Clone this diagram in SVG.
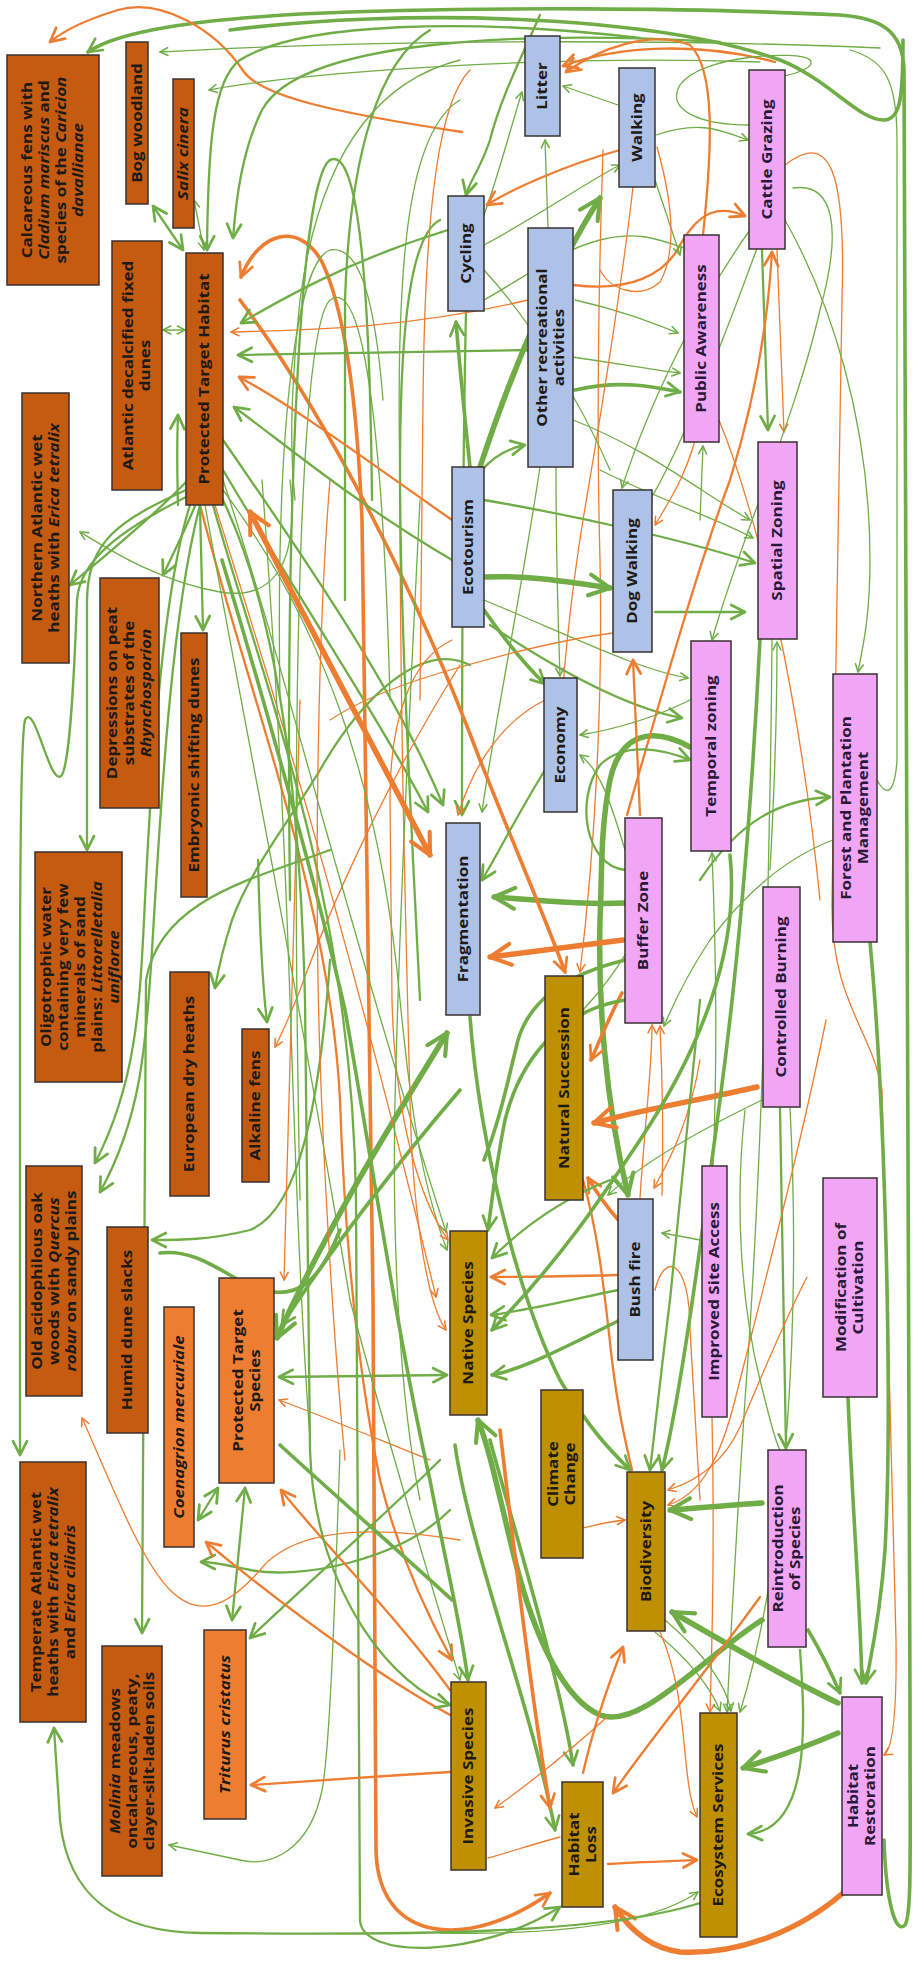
<svg xmlns="http://www.w3.org/2000/svg" width="918" height="1961" viewBox="0 0 918 1961">
<defs>
<marker id="mg" viewBox="0 0 10 10" refX="8.5" refY="5" markerWidth="8" markerHeight="8" markerUnits="strokeWidth" orient="auto-start-reverse"><path d="M1,1.2 L8.5,5 L1,8.8" fill="none" stroke="#70AD47" stroke-width="1.5" stroke-linecap="round" stroke-linejoin="round"/></marker>
<marker id="mgb" viewBox="0 0 10 10" refX="8.5" refY="5" markerWidth="5" markerHeight="5" markerUnits="strokeWidth" orient="auto-start-reverse"><path d="M1,1.2 L8.5,5 L1,8.8" fill="none" stroke="#70AD47" stroke-width="1.5" stroke-linecap="round" stroke-linejoin="round"/></marker>
<marker id="mo" viewBox="0 0 10 10" refX="8.5" refY="5" markerWidth="8" markerHeight="8" markerUnits="strokeWidth" orient="auto-start-reverse"><path d="M1,1.2 L8.5,5 L1,8.8" fill="none" stroke="#ED7D31" stroke-width="1.5" stroke-linecap="round" stroke-linejoin="round"/></marker>
<marker id="mob" viewBox="0 0 10 10" refX="8.5" refY="5" markerWidth="5" markerHeight="5" markerUnits="strokeWidth" orient="auto-start-reverse"><path d="M1,1.2 L8.5,5 L1,8.8" fill="none" stroke="#ED7D31" stroke-width="1.5" stroke-linecap="round" stroke-linejoin="round"/></marker>
<style>
#connectors path{fill:none;stroke-linecap:round;stroke-linejoin:round}
.g{stroke:#70AD47}
.o{stroke:#ED7D31}
.w1{stroke-width:1.3}.w2{stroke-width:2.3}.w3{stroke-width:3.6}.w4{stroke-width:5.5}
.g.a{marker-end:url(#mg)}
.g.d{marker-start:url(#mg);marker-end:url(#mg)}
.o.a{marker-end:url(#mo)}
.o.d{marker-start:url(#mo);marker-end:url(#mo)}
.g.a.w3,.g.a.w4{marker-end:url(#mgb)}
.g.d.w3,.g.d.w4{marker-start:url(#mgb);marker-end:url(#mgb)}
.o.a.w3,.o.a.w4{marker-end:url(#mob)}
.o.d.w3,.o.d.w4{marker-start:url(#mob);marker-end:url(#mob)}
#nodes rect{stroke:#3a3030;stroke-width:1.5}
.h{fill:#C55A11}
.s{fill:#ED7D31}
.y{fill:#BF9000}
.b{fill:#ADC2E6}
.p{fill:#F0A6F5}
#nodes text{font-family:"Open Sans","DejaVu Sans",sans-serif;font-weight:700;font-size:13.5px;fill:#1e1a18;text-anchor:middle}
#nodes .pt{fill:#2a1838}
.i{font-style:italic}
</style>
</defs>
<rect width="918" height="1961" fill="#ffffff"/>
<g id="connectors">
<path class="g a w3" d="M884,1840 C886,1900 895,1935 905,1925 C912,1915 910,1850 910,1700 L904,70 C903,30 880,18 840,15 C700,8 480,6 300,14 C200,20 120,30 88,52"/>
<path class="o a w2" d="M462,132 C330,112 262,96 244,72 C215,28 160,-2 118,10 C85,20 62,32 50,42"/>
<path class="g a w2" d="M640,38 C470,18 300,22 240,60 C212,80 208,150 207,250"/>
<path class="g a w2" d="M720,42 C520,30 300,40 262,110 C242,150 236,200 233,238"/>
<path class="g a w1" d="M880,48 C700,40 400,38 160,52"/>
<path class="g a w1" d="M760,62 C560,55 320,70 209,90"/>
<path class="g w3" d="M230,30 C400,8 650,14 780,60 C830,80 860,122 885,120 C900,118 903,100 903,40"/>
<path class="o a w2" d="M775,62 C700,42 620,45 563,66"/>
<path class="g w1" d="M750,125 C700,125 665,110 680,85 C700,55 800,50 810,60 C818,70 780,78 760,80"/>
<path class="g a w1" d="M484,215 C500,170 510,130 522,92"/>
<path class="g a w1" d="M548,228 L545,140"/>
<path class="g a w1" d="M618,105 L563,86"/>
<path class="g a w1" d="M484,245 C540,215 590,180 620,165"/>
<path class="o a w2" d="M620,150 C565,165 510,190 487,205"/>
<path class="g a w4" d="M480,467 C515,360 560,260 600,198"/>
<path class="o a w2" d="M573,285 C630,292 665,275 680,245 C700,210 720,205 745,216"/>
<path class="o a w2" d="M703,235 C712,150 716,70 690,45 C650,30 600,48 566,72"/>
<path class="o a w1" d="M785,165 C830,130 846,170 842,300 L832,900 C830,1000 872,1030 882,1090 L896,1640 C897,1720 892,1750 884,1755"/>
<path class="g a w2" d="M762,250 L768,430"/>
<path class="o a w1" d="M777,250 L784,432"/>
<path class="g a w1" d="M655,180 L680,255"/>
<path class="g a w1" d="M575,300 C620,310 650,322 678,333"/>
<path class="g a w3" d="M575,390 C620,380 650,386 680,392"/>
<path class="g a w1" d="M520,350 C600,360 640,368 680,373"/>
<path class="g a w1" d="M700,520 L703,446"/>
<path class="g a w1" d="M656,135 C700,120 720,130 748,140"/>
<path class="g a w2" d="M540,15 C520,60 500,100 490,140 C480,170 470,180 466,195"/>
<path class="g w1" d="M484,300 C520,280 560,250 600,240 C640,230 660,240 690,250"/>
<path class="g a w1" d="M750,230 C700,300 650,400 622,488"/>
<path class="g w1" d="M760,240 C720,350 680,450 650,500"/>
<path class="o w1" d="M719,420 C760,520 800,700 820,900"/>
<path class="o a w1" d="M603,150 C598,300 597,450 600,560 C603,700 595,850 580,972"/>
<path class="o w1" d="M633,187 C620,300 600,420 583,520 C570,600 560,700 556,800"/>
<path class="g a w2" d="M482,470 C495,455 510,448 525,445"/>
<path class="o w1" d="M657,147 C672,200 678,250 660,282 C640,300 610,290 600,270"/>
<path class="g w1" d="M484,270 C530,320 580,400 610,470"/>
<path class="g a w4" d="M486,577 C530,575 570,582 610,588"/>
<path class="g a w3" d="M484,610 C505,640 525,665 545,684"/>
<path class="g a w3" d="M470,467 C465,420 460,370 456,322"/>
<path class="g a w2" d="M655,612 L745,612"/>
<path class="g a w1" d="M573,420 C650,450 705,495 750,520"/>
<path class="g a w1" d="M600,470 C660,500 720,520 753,538"/>
<path class="g a w2" d="M484,500 C600,520 700,545 755,563"/>
<path class="g a w1" d="M484,600 C580,640 640,670 688,678"/>
<path class="g a w2" d="M490,625 C580,685 640,710 682,718"/>
<path class="g a w4" d="M690,747 C650,725 620,735 610,780 C600,830 602,880 600,920 C598,1000 605,1100 628,1195"/>
<path class="g a w4" d="M625,903 C580,905 540,900 494,897"/>
<path class="o a w4" d="M623,940 L490,957"/>
<path class="g a w2" d="M466,311 C462,500 462,700 462,815"/>
<path class="g a w1" d="M540,467 C520,600 490,750 482,812"/>
<path class="g a w2" d="M223,470 C300,600 380,720 428,812"/>
<path class="g a w2" d="M223,440 C320,580 400,700 443,805"/>
<path class="o w1" d="M613,633 C560,640 500,655 440,673 C400,685 360,700 330,720"/>
<path class="o a w2" d="M627,815 C660,700 700,560 730,480 C755,400 768,320 772,252"/>
<path class="o a w3" d="M240,300 C330,420 420,600 480,760 C520,860 550,930 565,972"/>
<path class="o a w2" d="M640,815 L633,660"/>
<path class="o a w1" d="M700,420 C690,470 670,500 655,525"/>
<path class="g a w2" d="M625,870 C585,865 575,800 600,765 C625,740 665,750 690,760"/>
<path class="g a w1" d="M690,700 C650,720 610,730 580,735"/>
<path class="g a w1" d="M625,850 C610,800 600,770 580,755"/>
<path class="g a w1" d="M556,467 C556,560 558,620 560,676"/>
<path class="g a w2" d="M545,770 C520,810 500,850 482,880"/>
<path class="o a w1" d="M545,700 C505,720 475,760 458,815"/>
<path class="g w3" d="M625,960 C565,975 530,1000 518,1040 C508,1080 500,1120 484,1160"/>
<path class="g a w1" d="M583,1010 C615,975 640,940 660,872"/>
<path class="g a w2" d="M700,880 C740,820 780,800 830,797"/>
<path class="g w1" d="M877,780 C888,800 895,790 897,760 L897,140 C897,80 885,60 850,50"/>
<path class="g a w1" d="M833,840 C780,860 740,900 710,940 C690,970 675,1000 664,1026"/>
<path class="g a w3" d="M848,1397 C852,1500 860,1600 862,1683"/>
<path class="g a w3" d="M870,942 C885,1100 893,1400 885,1550 C880,1620 870,1660 866,1683"/>
<path class="g a w1" d="M785,220 C830,300 870,420 870,560 C870,620 862,650 858,672"/>
<path class="g a w1" d="M793,188 C835,182 842,230 820,310 C795,420 740,540 712,640"/>
<path class="o a w4" d="M757,1087 C700,1100 640,1110 594,1123"/>
<path class="o a w3" d="M620,1222 C605,1205 595,1190 588,1178"/>
<path class="o a w3" d="M622,993 C610,1015 600,1040 591,1060"/>
<path class="o a w2" d="M618,1275 C580,1276 530,1277 491,1277"/>
<path class="g a w1" d="M762,1100 C700,1130 640,1165 608,1195"/>
<path class="o a w1" d="M640,1198 C645,1120 652,1070 652,1025"/>
<path class="o a w1" d="M662,1195 C664,1120 662,1070 660,1026"/>
<path class="o w2" d="M583,1180 C600,1240 605,1300 612,1360 C618,1410 625,1440 632,1470"/>
<path class="g a w3" d="M730,855 C740,950 700,1050 640,1140 C600,1200 560,1260 492,1330"/>
<path class="g a w2" d="M618,1290 C570,1300 530,1310 491,1315"/>
<path class="g a w3" d="M620,1320 C560,1350 520,1370 492,1375"/>
<path class="g a w2" d="M610,1180 C560,1200 520,1230 492,1258"/>
<path class="g a w3" d="M625,1000 C560,1010 520,1060 505,1120 C495,1170 492,1200 488,1230"/>
<path class="g a w3" d="M470,1017 C480,1150 520,1300 560,1380 C590,1430 610,1450 630,1470"/>
<path class="g a w1" d="M713,1166 C718,1050 716,950 712,853"/>
<path class="o a w1" d="M712,1417 C715,1550 712,1650 710,1712"/>
<path class="o a w1" d="M700,1060 C690,1120 670,1160 654,1188"/>
<path class="g a w1" d="M700,1240 C690,1238 675,1235 662,1233"/>
<path class="o w1" d="M655,1290 C665,1250 690,1260 690,1330 L700,1500"/>
<path class="g a w2" d="M780,1108 L786,1448"/>
<path class="g a w1" d="M790,1108 C800,1300 790,1550 740,1712"/>
<path class="g a w3" d="M760,639 C752,800 740,950 720,1100 C700,1250 680,1400 662,1470"/>
<path class="g a w1" d="M772,639 C770,900 760,1200 745,1400 C735,1550 730,1650 727,1712"/>
<path class="g a w1" d="M770,870 C775,780 777,700 777,642"/>
<path class="o a w1" d="M807,1277 C780,1330 760,1380 740,1427 C725,1460 700,1480 668,1490"/>
<path class="g a w2" d="M700,1000 C690,1100 680,1200 670,1300 C660,1380 655,1430 650,1470"/>
<path class="o a w1" d="M826,1020 C800,1150 760,1300 735,1400 C720,1460 700,1495 668,1505"/>
<path class="g w1" d="M745,1110 C735,1200 740,1300 760,1380 C770,1420 775,1440 780,1450"/>
<path class="g a w4" d="M762,1503 C730,1505 700,1508 670,1510"/>
<path class="g a w4" d="M838,1703 C790,1680 720,1640 672,1612"/>
<path class="g a w4" d="M838,1733 C810,1745 780,1756 743,1768"/>
<path class="o a w2" d="M608,1864 C640,1862 670,1861 697,1860"/>
<path class="o a w4" d="M843,1893 C800,1930 740,1955 680,1952 C650,1948 630,1930 615,1907"/>
<path class="g a w3" d="M808,1630 C820,1650 830,1670 840,1693"/>
<path class="g a w4" d="M762,1620 C700,1660 640,1730 600,1715 C565,1700 535,1640 515,1560 C500,1500 490,1450 478,1420"/>
<path class="g a w3" d="M490,1440 C520,1550 560,1680 573,1765"/>
<path class="g a w3" d="M455,1445 C470,1550 530,1700 555,1830"/>
<path class="o a w3" d="M500,1430 C515,1560 535,1720 550,1808"/>
<path class="o a w2" d="M583,1773 C595,1720 610,1680 623,1647"/>
<path class="o a w1" d="M583,1528 C600,1524 612,1521 625,1520"/>
<path class="o a w2" d="M760,1597 C700,1680 650,1740 613,1793"/>
<path class="g a w1" d="M655,1632 C690,1660 712,1690 720,1711"/>
<path class="g a w1" d="M665,1620 C700,1650 725,1680 731,1711"/>
<path class="g a w2" d="M800,1650 C805,1720 812,1830 748,1834"/>
<path class="g a w1" d="M440,1933 C550,1935 650,1925 698,1892"/>
<path class="o a w1" d="M660,1632 C690,1700 680,1780 697,1817"/>
<path class="o a w1" d="M607,1717 C560,1760 520,1790 495,1808"/>
<path class="o w1" d="M560,1837 C530,1845 510,1852 488,1858"/>
<path class="o d w3" d="M241,277 C260,230 300,222 322,262 C345,310 357,400 362,520 L373,1300 L376,1850 C378,1945 470,1950 550,1893"/>
<path class="o a w2" d="M200,505 C250,700 330,900 340,1100 C345,1250 360,1380 380,1480 C400,1560 430,1620 452,1660"/>
<path class="g a w2" d="M213,505 C268,700 352,900 356,1200 L360,1920 C362,1960 480,1958 560,1907"/>
<path class="g a w2" d="M700,1903 C600,1935 400,1935 200,1933 C120,1932 68,1900 60,1820 L54,1728"/>
<path class="g a w1" d="M340,1450 C335,1600 330,1750 322,1790 C310,1850 270,1868 240,1860 L169,1845"/>
<path class="g a w2" d="M330,850 C250,880 160,900 146,980 L142,1633"/>
<path class="g a w2" d="M330,960 C320,1100 300,1210 250,1230 C210,1240 180,1240 152,1240"/>
<path class="g a w2" d="M190,505 C160,600 150,800 145,900 C140,1000 138,1080 95,1163"/>
<path class="g a w2" d="M200,505 C170,620 160,820 152,950 C146,1050 140,1120 100,1192"/>
<path class="g a w2" d="M470,665 C420,640 360,700 320,770 C290,820 250,870 232,920 C224,945 219,965 215,988"/>
<path class="g a w2" d="M258,860 C260,940 263,990 267,1022"/>
<path class="o a w1" d="M460,665 C400,760 340,880 300,990 C292,1010 284,1030 275,1047"/>
<path class="g w3" d="M160,1253 C200,1248 230,1280 260,1290 C300,1300 320,1280 340,1230"/>
<path class="g d w4" d="M447,1033 C400,1110 330,1220 277,1338"/>
<path class="g a w3" d="M460,1090 C400,1160 330,1250 282,1325"/>
<path class="g d w2" d="M279,1377 L447,1375"/>
<path class="g d w2" d="M245,1488 L232,1620"/>
<path class="g d w2" d="M218,1488 L198,1520"/>
<path class="g a w2" d="M450,1510 C400,1560 300,1580 250,1570 C230,1566 215,1562 201,1562"/>
<path class="g a w2" d="M440,1460 C380,1520 300,1590 250,1638"/>
<path class="o a w2" d="M450,1690 C400,1620 320,1540 281,1490"/>
<path class="o a w2" d="M460,1720 C400,1690 300,1620 206,1542"/>
<path class="o a w1" d="M460,1540 C400,1530 300,1520 260,1570 C230,1605 200,1620 170,1590 C140,1560 110,1480 82,1418"/>
<path class="o a w2" d="M450,1772 C380,1776 300,1782 251,1785"/>
<path class="g w3" d="M280,1445 C340,1500 420,1570 452,1600"/>
<path class="o a w1" d="M300,700 C295,900 290,1100 284,1280"/>
<path class="o a w1" d="M430,1460 C380,1440 320,1415 279,1400"/>
<path class="g a w1" d="M223,480 C280,650 340,900 446,1232"/>
<path class="o a w1" d="M215,505 C260,650 340,900 436,1297"/>
<path class="g a w1" d="M205,505 C240,700 300,1000 350,1300 C390,1450 430,1580 460,1680"/>
<path class="g a w2" d="M223,500 C280,620 300,800 305,1000 L310,1450 C315,1600 400,1690 450,1705"/>
<path class="g a w1" d="M223,490 C320,620 380,780 400,1000 C410,1100 420,1180 447,1250"/>
<path class="g a w3" d="M222,560 C270,720 320,900 345,1010 C370,1150 400,1350 430,1480 C445,1560 460,1620 468,1680"/>
<path class="g w1" d="M262,480 C275,650 285,850 290,1000 C295,1150 300,1300 310,1440"/>
<path class="o w1" d="M330,480 C320,600 315,800 318,980 C320,1100 330,1300 345,1460"/>
<path class="o a w1" d="M400,480 C400,700 405,900 410,1100 C412,1200 425,1300 446,1330"/>
<path class="o a w1" d="M452,640 C410,660 390,720 390,800 L392,1000 C395,1120 420,1200 448,1240"/>
<path class="g w1" d="M420,500 C410,700 400,900 395,1100 C392,1250 400,1400 420,1500"/>
<path class="g a w1" d="M290,480 C300,570 270,600 220,592 C160,582 110,550 80,532"/>
<path class="g a w2" d="M178,505 C177,470 177,440 178,415"/>
<path class="g w2" d="M290,900 C285,500 300,180 330,160 C360,145 370,300 372,500"/>
<path class="g w1" d="M300,1200 C290,700 300,330 330,300 C370,270 385,500 390,700"/>
<path class="g w1" d="M280,700 C275,400 300,260 330,250 C360,245 375,300 383,400"/>
<path class="g w2" d="M420,1000 C400,600 380,250 440,220"/>
<path class="g w1" d="M460,60 C380,80 320,150 300,300 C290,400 290,450 295,500"/>
<path class="g w2" d="M430,30 C380,60 350,150 345,300 L345,600"/>
<path class="g w1" d="M460,100 C410,130 395,250 400,480"/>
<path class="o w1" d="M470,70 C440,100 425,200 423,400 L420,700"/>
<path class="g a w2" d="M448,230 C350,260 280,300 241,323"/>
<path class="g a w2" d="M528,350 C400,352 300,354 238,355"/>
<path class="o a w1" d="M528,300 C400,330 300,330 231,332"/>
<path class="o a w2" d="M452,520 C380,470 300,410 239,377"/>
<path class="g a w2" d="M452,560 C350,500 280,440 234,407"/>
<path class="o d w4" d="M250,512 L430,855"/>
<path class="g d w1" d="M163,330 L185,330"/>
<path class="g d w2" d="M153,206 L183,250"/>
<path class="g d w1" d="M194,200 L204,250"/>
<path class="g a w2" d="M188,480 C150,520 100,560 70,585"/>
<path class="g a w2" d="M195,506 C185,530 175,550 163,575"/>
<path class="g a w2" d="M200,507 L203,630"/>
<path class="g a w2" d="M190,495 C120,530 80,560 77,600 C74,680 70,760 62,775 C50,790 35,700 25,720 C20,740 20,900 20,1000 L20,1455"/>
<path class="g a w2" d="M186,490 C120,520 88,540 87,600 L87,850"/>
</g>
<g id="nodes">
<g id="n-calcareous"><rect class="h" x="7" y="55" width="92" height="230"/><text transform="translate(53,170) rotate(-90) scale(1.26,1)"><tspan x="0" y="-20.7">Calcareous fens with</tspan><tspan x="0" y="-3.7"><tspan class="i">Cladium mariscus</tspan> and</tspan><tspan x="0" y="13.3">species of the <tspan class="i">Caricion</tspan></tspan><tspan x="0" y="30.3" class="i">davallianae</tspan></text></g>
<g id="n-bog"><rect class="h" x="126" y="42" width="22" height="162"/><text transform="translate(137,123) rotate(-90) scale(1.26,1)"><tspan x="0" y="4.8">Bog woodland</tspan></text></g>
<g id="n-salix"><rect class="h" x="173" y="79" width="21" height="149"/><text transform="translate(183.5,153.5) rotate(-90) scale(1.26,1)"><tspan x="0" y="4.8" class="i">Salix cinera</tspan></text></g>
<g id="n-atlantic"><rect class="h" x="112" y="241" width="50" height="249"/><text transform="translate(137,365.5) rotate(-90) scale(1.26,1)"><tspan x="0" y="-3.7">Atlantic decalcified fixed</tspan><tspan x="0" y="13.3">dunes</tspan></text></g>
<g id="n-pth"><rect class="h" x="186" y="253" width="37" height="252"/><text transform="translate(204.5,379) rotate(-90) scale(1.26,1)"><tspan x="0" y="4.8">Protected Target Habitat</tspan></text></g>
<g id="n-northern"><rect class="h" x="22" y="393" width="47" height="270"/><text transform="translate(45.5,528) rotate(-90) scale(1.26,1)"><tspan x="0" y="-3.7">Northern Atlantic wet</tspan><tspan x="0" y="13.3">heaths with <tspan class="i">Erica tetralix</tspan></tspan></text></g>
<g id="n-depressions"><rect class="h" x="100" y="578" width="59" height="230"/><text transform="translate(129.5,693) rotate(-90) scale(1.26,1)"><tspan x="0" y="-12.2">Depressions on peat</tspan><tspan x="0" y="4.8">substrates of the</tspan><tspan x="0" y="21.8" class="i">Rhynchosporion</tspan></text></g>
<g id="n-embryonic"><rect class="h" x="181" y="633" width="26" height="264"/><text transform="translate(194,765) rotate(-90) scale(1.26,1)"><tspan x="0" y="4.8">Embryonic shifting dunes</tspan></text></g>
<g id="n-oligotrophic"><rect class="h" x="35" y="852" width="87" height="230"/><text transform="translate(80,967) rotate(-90) scale(1.26,1)"><tspan x="0" y="-29.2">Oligotrophic water</tspan><tspan x="0" y="-12.2">containing very few</tspan><tspan x="0" y="4.8">minerals of sand</tspan><tspan x="0" y="21.8">plains: <tspan class="i">Littorelletalia</tspan></tspan><tspan x="0" y="38.8" class="i">uniflorae</tspan></text></g>
<g id="n-european"><rect class="h" x="170" y="972" width="39" height="224"/><text transform="translate(189.5,1084) rotate(-90) scale(1.26,1)"><tspan x="0" y="4.8">European dry heaths</tspan></text></g>
<g id="n-alkaline"><rect class="h" x="242" y="1029" width="27" height="153"/><text transform="translate(255.5,1105.5) rotate(-90) scale(1.26,1)"><tspan x="0" y="4.8">Alkaline fens</tspan></text></g>
<g id="n-oak"><rect class="h" x="26" y="1166" width="56" height="230"/><text transform="translate(54,1281) rotate(-90) scale(1.26,1)"><tspan x="0" y="-12.2">Old acidophilous oak</tspan><tspan x="0" y="4.8">woods with <tspan class="i">Quercus</tspan></tspan><tspan x="0" y="21.8"><tspan class="i">robur</tspan> on sandy plains</tspan></text></g>
<g id="n-humid"><rect class="h" x="107" y="1227" width="41" height="206"/><text transform="translate(127.5,1330) rotate(-90) scale(1.26,1)"><tspan x="0" y="4.8">Humid dune slacks</tspan></text></g>
<g id="n-coenagrion"><rect class="s" x="164" y="1307" width="30" height="240"/><text transform="translate(179,1427) rotate(-90) scale(1.26,1)"><tspan x="0" y="4.8" class="i">Coenagrion mercuriale</tspan></text></g>
<g id="n-pts"><rect class="s" x="219" y="1278" width="55" height="205"/><text transform="translate(246.5,1380.5) rotate(-90) scale(1.26,1)"><tspan x="0" y="-3.7">Protected Target</tspan><tspan x="0" y="13.3">Species</tspan></text></g>
<g id="n-temperate"><rect class="h" x="20" y="1462" width="66" height="260"/><text transform="translate(53,1592) rotate(-90) scale(1.26,1)"><tspan x="0" y="-12.2">Temperate Atlantic wet</tspan><tspan x="0" y="4.8">heaths with <tspan class="i">Erica tetralix</tspan></tspan><tspan x="0" y="21.8">and <tspan class="i">Erica ciliaris</tspan></tspan></text></g>
<g id="n-molinia"><rect class="h" x="102" y="1646" width="60" height="230"/><text transform="translate(132,1761) rotate(-90) scale(1.26,1)"><tspan x="0" y="-12.2"><tspan class="i">Molinia</tspan> meadows</tspan><tspan x="0" y="4.8">oncalcareous, peaty,</tspan><tspan x="0" y="21.8">clayer-silt-laden soils</tspan></text></g>
<g id="n-triturus"><rect class="s" x="204" y="1630" width="42" height="189"/><text transform="translate(225,1724.5) rotate(-90) scale(1.26,1)"><tspan x="0" y="4.8" class="i">Triturus cristatus</tspan></text></g>
<g id="n-cycling"><rect class="b" x="448" y="196" width="36" height="115"/><text transform="translate(466,253.5) rotate(-90) scale(1.26,1)"><tspan x="0" y="4.8">Cycling</tspan></text></g>
<g id="n-litter"><rect class="b" x="525" y="36" width="35" height="100"/><text transform="translate(542.5,86) rotate(-90) scale(1.26,1)"><tspan x="0" y="4.8">Litter</tspan></text></g>
<g id="n-walking"><rect class="b" x="619" y="68" width="36" height="119"/><text transform="translate(637,127.5) rotate(-90) scale(1.26,1)"><tspan x="0" y="4.8">Walking</tspan></text></g>
<g id="n-other"><rect class="b" x="528" y="228" width="45" height="239"/><text transform="translate(550.5,347.5) rotate(-90) scale(1.26,1)"><tspan x="0" y="-3.7">Other recreational</tspan><tspan x="0" y="13.3">activities</tspan></text></g>
<g id="n-awareness"><rect class="p" x="684" y="235" width="35" height="207"/><text class="pt" transform="translate(701.5,338.5) rotate(-90) scale(1.26,1)"><tspan x="0" y="4.8">Public Awareness</tspan></text></g>
<g id="n-cattle"><rect class="p" x="749" y="70" width="36" height="179"/><text class="pt" transform="translate(767,159.5) rotate(-90) scale(1.26,1)"><tspan x="0" y="4.8">Cattle Grazing</tspan></text></g>
<g id="n-spatial"><rect class="p" x="758" y="442" width="39" height="197"/><text class="pt" transform="translate(777.5,540.5) rotate(-90) scale(1.26,1)"><tspan x="0" y="4.8">Spatial Zoning</tspan></text></g>
<g id="n-ecotourism"><rect class="b" x="452" y="467" width="32" height="160"/><text transform="translate(468,547) rotate(-90) scale(1.26,1)"><tspan x="0" y="4.8">Ecotourism</tspan></text></g>
<g id="n-dogwalking"><rect class="b" x="613" y="490" width="39" height="162"/><text transform="translate(632.5,571) rotate(-90) scale(1.26,1)"><tspan x="0" y="4.8">Dog Walking</tspan></text></g>
<g id="n-economy"><rect class="b" x="544" y="678" width="33" height="134"/><text transform="translate(560.5,745) rotate(-90) scale(1.26,1)"><tspan x="0" y="4.8">Economy</tspan></text></g>
<g id="n-temporal"><rect class="p" x="691" y="641" width="40" height="210"/><text class="pt" transform="translate(711,746) rotate(-90) scale(1.26,1)"><tspan x="0" y="4.8">Temporal zoning</tspan></text></g>
<g id="n-forest"><rect class="p" x="833" y="674" width="44" height="268"/><text class="pt" transform="translate(855,808) rotate(-90) scale(1.26,1)"><tspan x="0" y="-3.7">Forest and Plantation</tspan><tspan x="0" y="13.3">Management</tspan></text></g>
<g id="n-fragmentation"><rect class="b" x="446" y="823" width="34" height="192"/><text transform="translate(463,919) rotate(-90) scale(1.26,1)"><tspan x="0" y="4.8">Fragmentation</tspan></text></g>
<g id="n-buffer"><rect class="p" x="625" y="818" width="37" height="205"/><text class="pt" transform="translate(643.5,920.5) rotate(-90) scale(1.26,1)"><tspan x="0" y="4.8">Buffer Zone</tspan></text></g>
<g id="n-burning"><rect class="p" x="763" y="887" width="37" height="220"/><text class="pt" transform="translate(781.5,997) rotate(-90) scale(1.26,1)"><tspan x="0" y="4.8">Controlled Burning</tspan></text></g>
<g id="n-succession"><rect class="y" x="545" y="976" width="38" height="224"/><text transform="translate(564,1088) rotate(-90) scale(1.26,1)"><tspan x="0" y="4.8">Natural Succession</tspan></text></g>
<g id="n-bushfire"><rect class="b" x="618" y="1199" width="35" height="161"/><text transform="translate(635.5,1279.5) rotate(-90) scale(1.26,1)"><tspan x="0" y="4.8">Bush fire</tspan></text></g>
<g id="n-access"><rect class="p" x="702" y="1166" width="25" height="251"/><text class="pt" transform="translate(714.5,1291.5) rotate(-90) scale(1.26,1)"><tspan x="0" y="4.8">Improved Site Access</tspan></text></g>
<g id="n-cultivation"><rect class="p" x="823" y="1178" width="54" height="219"/><text class="pt" transform="translate(850,1287.5) rotate(-90) scale(1.26,1)"><tspan x="0" y="-3.7">Modification of</tspan><tspan x="0" y="13.3">Cultivation</tspan></text></g>
<g id="n-native"><rect class="y" x="450" y="1231" width="37" height="184"/><text transform="translate(468.5,1323) rotate(-90) scale(1.26,1)"><tspan x="0" y="4.8">Native Species</tspan></text></g>
<g id="n-climate"><rect class="y" x="541" y="1390" width="42" height="168"/><text transform="translate(562,1474) rotate(-90) scale(1.26,1)"><tspan x="0" y="-3.7">Climate</tspan><tspan x="0" y="13.3">Change</tspan></text></g>
<g id="n-biodiversity"><rect class="y" x="627" y="1472" width="38" height="159"/><text transform="translate(646,1551.5) rotate(-90) scale(1.26,1)"><tspan x="0" y="4.8">Biodiversity</tspan></text></g>
<g id="n-reintroduction"><rect class="p" x="768" y="1450" width="38" height="197"/><text class="pt" transform="translate(787,1548.5) rotate(-90) scale(1.26,1)"><tspan x="0" y="-3.7">Reintroduction</tspan><tspan x="0" y="13.3">of Species</tspan></text></g>
<g id="n-restoration"><rect class="p" x="842" y="1697" width="40" height="198"/><text class="pt" transform="translate(862,1796) rotate(-90) scale(1.26,1)"><tspan x="0" y="-3.7">Habitat</tspan><tspan x="0" y="13.3">Restoration</tspan></text></g>
<g id="n-ecosystem"><rect class="y" x="700" y="1713" width="37" height="224"/><text transform="translate(718.5,1825) rotate(-90) scale(1.26,1)"><tspan x="0" y="4.8">Ecosystem Services</tspan></text></g>
<g id="n-loss"><rect class="y" x="562" y="1782" width="41" height="125"/><text transform="translate(582.5,1844.5) rotate(-90) scale(1.26,1)"><tspan x="0" y="-3.7">Habitat</tspan><tspan x="0" y="13.3">Loss</tspan></text></g>
<g id="n-invasive"><rect class="y" x="451" y="1682" width="35" height="188"/><text transform="translate(468.5,1776) rotate(-90) scale(1.26,1)"><tspan x="0" y="4.8">Invasive Species</tspan></text></g>
</g>
</svg>
